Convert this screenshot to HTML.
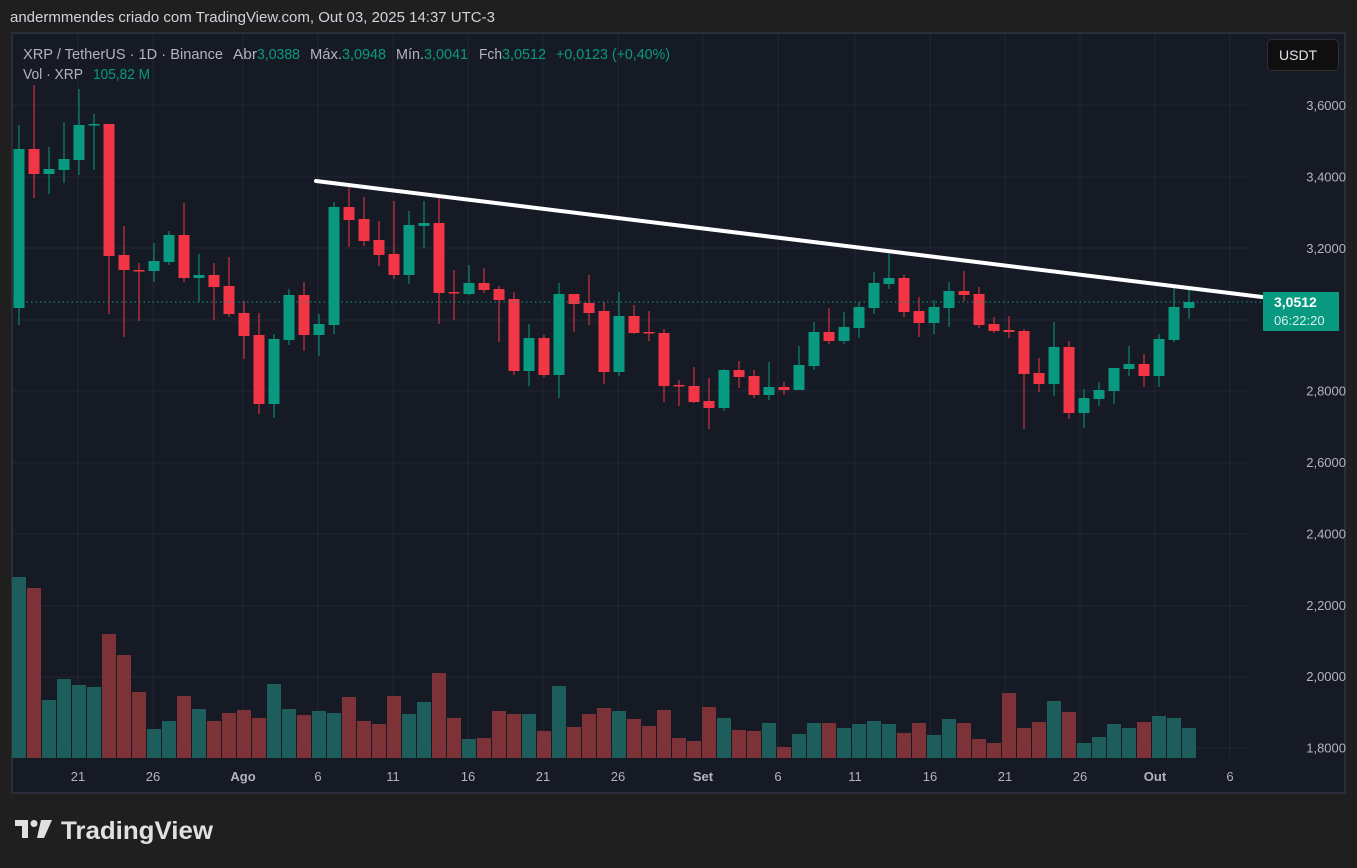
<!DOCTYPE html>
<html><head><meta charset="utf-8"><style>
body{margin:0;width:1357px;height:868px;background:#1f1f1f;overflow:hidden;font-family:"Liberation Sans",sans-serif}
#hdr{position:absolute;left:10px;top:9px;color:#d1d4dc;font-size:15px;font-family:"Liberation Sans",sans-serif}
svg{position:absolute;left:0;top:0}
</style></head><body>
<div id="hdr">andermmendes criado com TradingView.com, Out 03, 2025 14:37 UTC-3</div>
<svg id="s" width="1357" height="868" xmlns="http://www.w3.org/2000/svg"></svg>
<script>
const C=[[149,308,125,325,'g'],[149,174,85,198,'r'],[174,169,147,194,'g'],[170,159,122,183,'g'],[160,125,89,175,'g'],[124,124,114,170,'g'],[124,256,124,314,'r'],[255,270,226,337,'r'],[270,270,263,321,'r'],[271,261,243,282,'g'],[262,235,231,265,'g'],[235,278,203,282,'r'],[278,275,254,302,'g'],[275,287,263,320,'r'],[286,314,257,317,'r'],[313,336,301,359,'r'],[335,404,313,414,'r'],[404,339,334,418,'g'],[340,295,289,345,'g'],[295,335,282,351,'r'],[335,324,314,356,'g'],[325,207,202,334,'g'],[207,220,184,247,'r'],[219,241,197,246,'r'],[240,255,221,266,'r'],[254,275,201,279,'r'],[275,225,211,284,'g'],[226,223,201,248,'g'],[223,293,195,324,'r'],[292,292,270,320,'r'],[294,283,265,295,'g'],[283,290,268,293,'r'],[289,300,286,342,'r'],[299,371,292,375,'r'],[371,338,324,386,'g'],[338,375,335,377,'r'],[375,294,283,398,'g'],[294,304,294,332,'r'],[303,313,275,325,'r'],[311,372,302,384,'r'],[372,316,292,376,'g'],[316,333,305,334,'r'],[332,332,311,341,'r'],[333,386,329,402,'r'],[385,385,380,406,'r'],[386,402,367,403,'r'],[401,408,378,429,'r'],[408,370,369,411,'g'],[370,377,361,388,'r'],[376,395,370,398,'r'],[395,387,362,400,'g'],[387,390,382,395,'r'],[390,365,346,390,'g'],[366,332,322,370,'g'],[332,341,308,344,'r'],[341,327,312,344,'g'],[328,307,302,338,'g'],[308,283,272,314,'g'],[284,278,254,289,'g'],[278,312,275,317,'r'],[311,323,297,337,'r'],[323,307,300,334,'g'],[308,291,282,327,'g'],[291,295,271,301,'r'],[294,325,287,328,'r'],[324,331,317,333,'r'],[330,332,316,338,'r'],[331,374,329,429,'r'],[373,384,358,392,'r'],[384,347,322,396,'g'],[347,413,341,419,'r'],[413,398,389,428,'g'],[399,390,382,406,'g'],[391,368,368,404,'g'],[369,364,346,376,'g'],[364,376,354,387,'r'],[376,339,334,387,'g'],[340,307,285,342,'g'],[308,302,287,319,'g']];
const V=[577,588,700,679,685,687,634,655,692,729,721,696,709,721,713,710,718,684,709,715,711,713,697,721,724,696,714,702,673,718,739,738,711,714,714,731,686,727,714,708,711,719,726,710,738,741,707,718,730,731,723,747,734,723,723,728,724,721,724,733,723,735,719,723,739,743,693,728,722,701,712,743,737,724,728,722,716,718,728];
let h='';
h+='<rect x="12" y="33" width="1333" height="760" fill="#161a25" stroke="#2a2e39" stroke-width="2"/>';
[105,177,248,320,391,463,534,606,677,748].forEach(y=>h+=`<line x1="13" x2="1250" y1="${y}" y2="${y}" stroke="#232734"/>`);
[78,153,243,318,393,468,543,618,703,778,855,930,1005,1080,1155,1230].forEach(x=>h+=`<line x1="${x}" x2="${x}" y1="34" y2="758" stroke="#232734"/>`);
C.forEach((c,i)=>{const x=19+15*i;const vc=c[4]=='g'?'#1d5e5c':'#7c3236';
h+=`<rect x="${x-7}" y="${V[i]}" width="14" height="${758-V[i]}" fill="${vc}"/>`;});
C.forEach((c,i)=>{const x=19+15*i;const col=c[4]=='g'?'#089981':'#f23645';
const t=Math.min(c[0],c[1]),b=Math.max(c[0],c[1]);
h+=`<line x1="${x}" x2="${x}" y1="${c[2]}" y2="${c[3]}" stroke="${col}" stroke-width="1"/>`;
h+=`<rect x="${x-5.5}" y="${t}" width="11" height="${Math.max(b-t,1.5)}" fill="${col}"/>`;});
h+='<line x1="13" x2="1262" y1="302" y2="302" stroke="#089981" stroke-dasharray="1.5 3"/>';
h+='<line x1="316" y1="181" x2="1262" y2="297" stroke="#fff" stroke-width="4" stroke-linecap="round"/>';
const P=['3,6000','3,4000','3,2000','','2,8000','2,6000','2,4000','2,2000','2,0000','1,8000'];
P.forEach((p,i)=>{if(p)h+=`<text x="1346" y="${105+i*71.4+5}" text-anchor="end" fill="#b2b5be" font-size="13">${p}</text>`});
h+='<rect x="1263" y="292" width="76" height="39" fill="#089981"/><text x="1274" y="307" fill="#fff" font-size="14" font-weight="bold">3,0512</text><text x="1274" y="325" fill="#d8f0ec" font-size="13">06:22:20</text>';
h+='<rect x="1267.5" y="39.5" width="71" height="31" rx="4" fill="#0f0f0f" stroke="#2f2f2f"/><text x="1279" y="60" fill="#e0e3eb" font-size="14">USDT</text>';
[['21',78],['26',153],['Ago',243,1],['6',318],['11',393],['16',468],['21',543],['26',618],['Set',703,1],['6',778],['11',855],['16',930],['21',1005],['26',1080],['Out',1155,1],['6',1230]].forEach(t=>h+=`<text x="${t[1]}" y="781" text-anchor="middle" fill="#b2b5be" font-size="13" ${t[2]?'font-weight="bold"':''}>${t[0]}</text>`);
const L=[['XRP / TetherUS · 1D · Binance',23,200,'#b2b5be',59],['Abr',233,24,'#b2b5be',59],['3,0388',257,43,'#089981',59],['Máx.',310,32,'#b2b5be',59],['3,0948',342,44,'#089981',59],['Mín.',396,28,'#b2b5be',59],['3,0041',424,44,'#089981',59],['Fch',479,23,'#b2b5be',59],['3,0512',502,44,'#089981',59],['+0,0123 (+0,40%)',556,114,'#089981',59],['Vol · XRP',23,60,'#b2b5be',79],['105,82 M',93,57,'#089981',79]];
L.forEach(l=>h+=`<text x="${l[1]}" y="${l[4]}" textLength="${l[2]}" lengthAdjust="spacingAndGlyphs" font-size="15" fill="${l[3]}">${l[0]}</text>`);
h+='<path d="M15 820h13v18h-6v-12h-7z" fill="#e0e0e0"/><circle cx="34" cy="823.5" r="3.5" fill="#e0e0e0"/><path d="M41 820h11l-8 18h-7z" fill="#e0e0e0"/>';
h+='<text x="61" y="839" font-size="25" font-weight="bold" fill="#e0e0e0" textLength="152" lengthAdjust="spacingAndGlyphs">TradingView</text>';
document.getElementById('s').innerHTML=h;
</script>
</body></html>
